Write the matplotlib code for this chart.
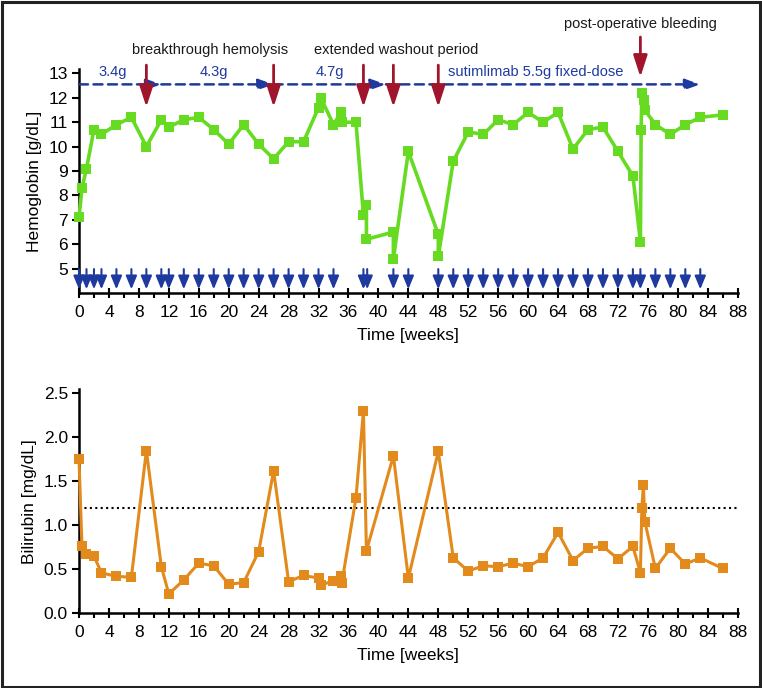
import matplotlib
matplotlib.use("Agg")
import matplotlib.pyplot as plt
from matplotlib.patches import Rectangle
from matplotlib.ticker import MultipleLocator

plt.rcParams['font.family'] = ['Liberation Sans', 'DejaVu Sans']

# ---------------- data ----------------
hb_weeks = [0, 0.4, 1, 2, 3, 5, 7, 9, 11, 12, 14, 16, 18, 20, 22, 24, 26, 28, 30,
            32, 32.3, 34, 35, 35.1, 37, 38, 38.4, 38.4, 42, 42, 44, 48, 48, 50, 52,
            54, 56, 58, 60, 62, 64, 66, 68, 70, 72, 74, 75, 75.1, 75.2, 75.5, 75.6,
            77, 79, 81, 83, 86]
hb_values = [7.1, 8.3, 9.1, 10.7, 10.5, 10.9, 11.2, 10.0, 11.1, 10.8, 11.1, 11.2, 10.7,
             10.1, 10.9, 10.1, 9.5, 10.2, 10.2, 11.6, 12.0, 10.9, 11.4, 11.0, 11.0, 7.2,
             7.6, 6.2, 6.5, 5.4, 9.8, 6.4, 5.5, 9.4, 10.6, 10.5, 11.1, 10.9, 11.4, 11.0,
             11.4, 9.9, 10.7, 10.8, 9.8, 8.8, 6.1, 10.7, 12.2, 11.9, 11.5, 10.9, 10.5,
             10.9, 11.2, 11.3]

bili_weeks = [0, 0.4, 1, 2, 3, 5, 7, 9, 11, 12, 14, 16, 18, 20, 22, 24, 26, 28, 30,
              32, 32.3, 34, 35, 35.1, 37, 38, 38.4, 42, 44, 48, 50, 52, 54, 56, 58,
              60, 62, 64, 66, 68, 70, 72, 74, 75, 75.2, 75.4, 75.6, 77, 79, 81, 83, 86]
bili_values = [1.75, 0.76, 0.67, 0.65, 0.46, 0.42, 0.41, 1.85, 0.53, 0.22, 0.38, 0.57,
               0.54, 0.33, 0.35, 0.70, 1.62, 0.36, 0.43, 0.40, 0.32, 0.37, 0.42, 0.34,
               1.31, 2.30, 0.71, 1.79, 0.40, 1.84, 0.63, 0.48, 0.54, 0.53, 0.57, 0.53,
               0.63, 0.92, 0.60, 0.74, 0.76, 0.62, 0.76, 0.46, 1.20, 1.46, 1.04, 0.51,
               0.74, 0.56, 0.63, 0.51]
bili_uln = 1.2

dose_weeks = [0, 1, 2, 3, 5, 7, 9, 11, 12, 14, 16, 18, 20, 22, 24, 26, 28, 30, 32, 34,
              38, 38.5, 42, 44, 48, 50, 52, 54, 56, 58, 60, 62, 64, 66, 68, 70, 72, 74,
              75, 77, 79, 81, 83]

regimen_starts = [0, 11, 26, 41]
regimen_ends = [11, 26, 41, 83]
regimen_labels = ["3.4g", "4.3g", "4.7g", "sutimlimab 5.5g fixed-dose"]
regimen_label_x = [4.5, 18, 33.5, 61]

event_weeks = [9, 26, 38, 42, 48]
event_labels = ["breakthrough hemolysis", "extended washout period"]
event_label_x = [17.5, 42.4]
postop_week = 75
postop_label = "post-operative bleeding"

x_ticks = list(range(0, 89, 4))
hb_ticks = list(range(5, 14))
bili_ticks = [0.0, 0.5, 1.0, 1.5, 2.0, 2.5]

# ---------------- styles ----------------
GREEN = "#66DB22"
ORANGE = "#E38A1C"
BLUE = "#1E3A9E"
RED = "#A0152C"
W, H = 762, 688

fig = plt.figure(figsize=(W / 100, H / 100), dpi=100)
ax1 = fig.add_axes([79 / W, 1 - 293 / H, (737.7 - 79) / W, (293 - 69) / H])
ax2 = fig.add_axes([79 / W, 1 - 613.3 / H, (737.7 - 79) / W, (613.3 - 389) / H])

label_font = dict(fontsize=12.5)

for ax in (ax1, ax2):
    ax.spines['top'].set_visible(False)
    ax.spines['right'].set_visible(False)
    ax.spines['left'].set_linewidth(1.8)
    ax.spines['bottom'].set_linewidth(1.8)
    ax.set_xlim(0, 88)
    ax.set_xticks(x_ticks)
    ax.xaxis.set_minor_locator(MultipleLocator(2))
    ax.tick_params(axis='x', which='major', direction='inout', length=7, width=1.5,
                   labelsize=12.5, pad=5)
    ax.tick_params(axis='x', which='minor', direction='out', length=3.5, width=1.5)
    ax.tick_params(axis='y', which='major', direction='out', length=5, width=1.5,
                   labelsize=12.5, pad=3)
    ax.set_xlabel("Time [weeks]", labelpad=6, **label_font)

# ---- top panel: hemoglobin ----
ax1.plot(hb_weeks, hb_values, color=GREEN, lw=2.6, marker='s', ms=6.5,
         markeredgewidth=0, zorder=3, clip_on=False)
ax1.set_ylim(4.0, 13.18)
ax1.set_yticks(hb_ticks)
ax1.set_ylabel("Hemoglobin [g/dL]", labelpad=5, **label_font)

# dose arrows at bottom
for w in dose_weeks:
    ax1.annotate("", xy=(w, 4.15), xytext=(w, 4.98),
                 arrowprops=dict(arrowstyle='-|>,head_length=0.8,head_width=0.33',
                                 color=BLUE, lw=1.5, shrinkA=0, shrinkB=0),
                 annotation_clip=False, zorder=4)

# regimen dashed arrows
y_reg = 12.55
for s, e in zip(regimen_starts, regimen_ends):
    ax1.annotate("", xy=(e, y_reg), xytext=(s, y_reg),
                 arrowprops=dict(arrowstyle='-|>,head_length=0.9,head_width=0.32',
                                 color=BLUE, lw=1.8, ls=(0, (3.6, 2.2)),
                                 shrinkA=0, shrinkB=0),
                 annotation_clip=False, zorder=4)
for lab, x in zip(regimen_labels, regimen_label_x):
    ax1.text(x, 13.07, lab, color=BLUE, fontsize=10.5, ha='center', va='center')

# event red arrows
for w in event_weeks:
    ax1.annotate("", xy=(w, 11.62), xytext=(w, 13.34),
                 arrowprops=dict(arrowstyle='-|>,head_length=1.3,head_width=0.42',
                                 color=RED, lw=2.0, shrinkA=0, shrinkB=0),
                 annotation_clip=False, zorder=5)
ax1.annotate("", xy=(postop_week, 12.85), xytext=(postop_week, 14.49),
             arrowprops=dict(arrowstyle='-|>,head_length=1.3,head_width=0.42',
                             color=RED, lw=2.0, shrinkA=0, shrinkB=0),
             annotation_clip=False, zorder=5)
for lab, x in zip(event_labels, event_label_x):
    ax1.text(x, 13.95, lab, color='#1a1a1a', fontsize=10.5, ha='center', va='center')
ax1.text(postop_week, 15.02, postop_label, color='#1a1a1a', fontsize=10.5,
         ha='center', va='center')

# ---- bottom panel: bilirubin ----
ax2.plot(bili_weeks, bili_values, color=ORANGE, lw=2.2, marker='s', ms=6.5,
         markeredgewidth=0, zorder=3, clip_on=False)
ax2.axhline(bili_uln, color='black', lw=1.5, ls=(0, (1, 1.6)), zorder=2)
ax2.set_ylim(0, 2.55)
ax2.set_yticks(bili_ticks)
ax2.set_yticklabels([f"{v:.1f}" for v in bili_ticks])
ax2.set_ylabel("Bilirubin [mg/dL]", labelpad=5, **label_font)

# figure border
fig.patches.append(Rectangle((0.002, 0.002), 0.995, 0.995, transform=fig.transFigure,
                             fill=False, edgecolor='#222222', lw=2.2))

fig.savefig("out.png", dpi=100)
